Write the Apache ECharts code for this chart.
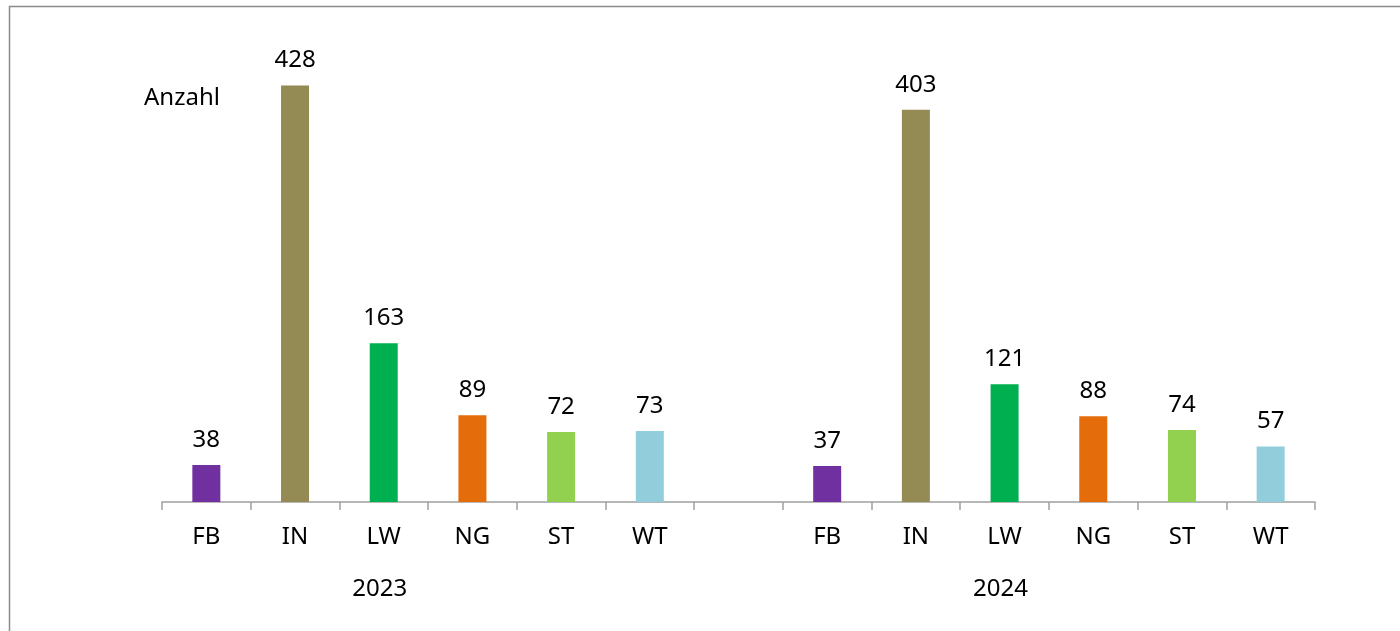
<!DOCTYPE html>
<html>
<head>
<meta charset="utf-8">
<script src="https://cdn.jsdelivr.net/npm/echarts@6/dist/echarts.min.js"></script>
<style>
  html, body { margin: 0; padding: 0; background: #fff; }
  #chart { width: 1400px; height: 631px; }
</style>
</head>
<body>
<div id="chart"></div>
<script>
// data
const categories = ['FB', 'IN', 'LW', 'NG', 'ST', 'WT'];
const years = ['2023', '2024'];
const values2023 = [38, 428, 163, 89, 72, 73];
const values2024 = [37, 403, 121, 88, 74, 57];
const colors = ['#7030A0', '#948A54', '#00B050', '#E46C0A', '#92D050', '#92CDDC'];
const yName = 'Anzahl';

const font = '"Noto Sans", sans-serif';

// two groups of categories with an empty slot between them
let cats = [];
let groupLabels = [];
let data = [];
const groups = [values2023, values2024];
groups.forEach((vals, g) => {
  if (g > 0) {
    cats.push('');
    groupLabels.push('');
    data.push('-');
  }
  vals.forEach((v, i) => {
    cats.push(categories[i]);
    groupLabels.push(i === 2 ? years[g] : '');
    data.push({ value: v, itemStyle: { color: colors[i] } });
  });
});

let chart = echarts.init(document.getElementById('chart'));
let option = {
  animation: false,
  grid: { left: 162, right: 85, top: 64, bottom: 129 },
  graphic: [
    {
      type: 'rect',
      shape: { x: 9.5, y: 6.5, width: 1500, height: 700 },
      style: { fill: 'none', stroke: '#8c8c8c', lineWidth: 1.5 },
      silent: true
    },
    {
      type: 'text',
      left: 144,
      top: 86,
      style: { text: yName, font: '24px ' + font, fill: '#000' }
    }
  ],
  xAxis: [
    {
      type: 'category',
      data: cats,
      axisLine: { show: true, lineStyle: { color: '#a0a0a0', width: 1.5 } },
      axisTick: { show: true, alignWithLabel: false, length: 8, lineStyle: { color: '#a0a0a0', width: 1.5 } },
      axisLabel: {
        interval: 0,
        margin: 23,
        color: '#000',
        fontFamily: font,
        fontSize: 24,
        lineHeight: 24
      }
    },
    {
      type: 'category',
      data: groupLabels,
      position: 'bottom',
      axisLine: { show: false },
      axisTick: { show: false },
      axisLabel: {
        interval: 0,
        margin: 75,
        color: '#000',
        fontFamily: font,
        fontSize: 24,
        lineHeight: 24,
        padding: [0, 8, 0, 0]
      }
    }
  ],
  yAxis: {
    type: 'value',
    min: 0,
    max: 450,
    show: false,
    splitLine: { show: false }
  },
  series: [
    {
      type: 'bar',
      xAxisIndex: 0,
      barWidth: 28,
      data: data,
      label: {
        show: true,
        position: 'top',
        distance: 13,
        color: '#000',
        fontFamily: font,
        fontSize: 24,
        lineHeight: 24
      }
    }
  ]
};
chart.setOption(option);
</script>
</body>
</html>
